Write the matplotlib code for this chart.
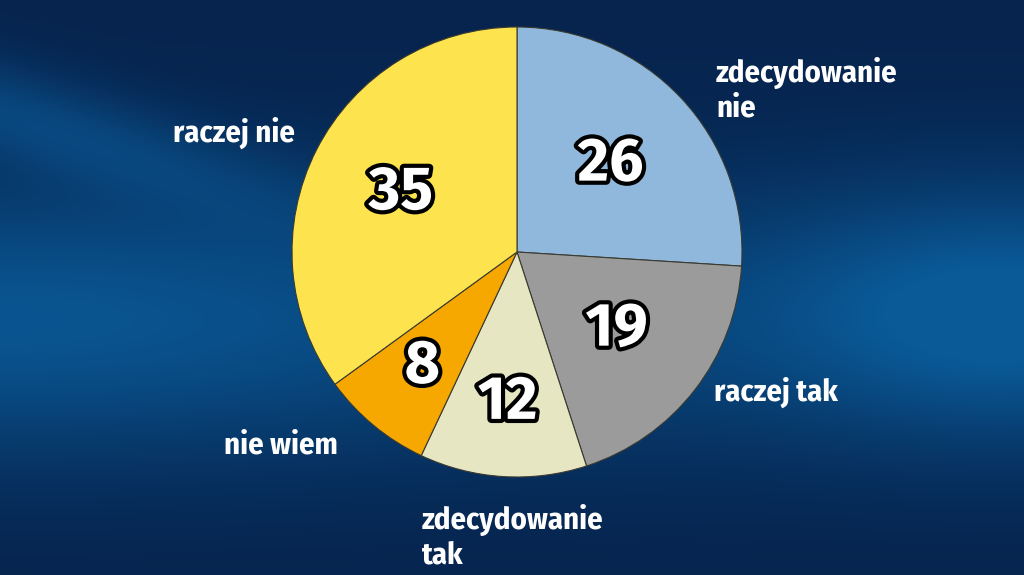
import matplotlib.pyplot as plt
import matplotlib.patheffects as pe
import numpy as np

# survey answers, clockwise from 12 o'clock
labels = ["zdecydowanie\nnie", "raczej tak", "zdecydowanie\ntak", "nie wiem", "raczej nie"]
values = [26, 19, 12, 8, 35]
colors = ["#8fb8dc", "#9b9b9b", "#e6e6c3", "#f7a800", "#fde44f"]

# where the numbers sit inside each wedge (fraction of radius)
num_dist = [0.57, 0.56, 0.67, 0.66, 0.58]
# label anchor points in pixel space (x, y from top) and alignment
label_pos = [(716, 90), (714, 392), (422, 537), (338, 445), (295, 133)]
label_ha = ["left", "left", "left", "right", "right"]

W, H = 1024, 575
cx, cy, R = 517, 252, 225

fig = plt.figure(figsize=(W / 100, H / 100), dpi=100)
ax = fig.add_axes([0, 0, 1, 1])

# blue studio-style background
yy, xx = np.mgrid[0:H, 0:W]
yt = yy  # row 0 is the top with origin="upper"
base = np.array([6, 36, 78]) / 255
light = np.array([10, 90, 152]) / 255
glow = 0.9 * np.exp(-((yt - 320) / 140) ** 2) * (0.6 + 0.4 * np.exp(-(xx / 450) ** 2))
glow += 0.6 * np.exp(-((yt - 310) / 120) ** 2) * np.exp(-((xx - 1000) / 220) ** 2)
streak = 0.55 * np.exp(-((yt - 110 - 0.3 * xx) / 50) ** 2) * np.exp(-(xx / 280) ** 2)
mix = np.clip(glow + streak, 0, 1)[..., None]
bg = base * (1 - mix) + light * mix
ax.imshow(bg, extent=(0, W, 0, H), origin="upper", aspect="auto", zorder=0)

wedges, _ = ax.pie(
    values,
    colors=colors,
    startangle=90,
    counterclock=False,
    center=(cx, H - cy),
    radius=R,
    frame=True,
    wedgeprops=dict(edgecolor="#3a3a30", linewidth=0.8),
)
ax.set_xlim(0, W)
ax.set_ylim(0, H)
ax.set_aspect("equal")
ax.set_axis_off()

outline = [pe.withStroke(linewidth=6, foreground="black")]
for w, v, d in zip(wedges, values, num_dist):
    ang = np.deg2rad((w.theta1 + w.theta2) / 2)
    ax.text(cx + d * R * np.cos(ang), H - cy + d * R * np.sin(ang), str(v),
            ha="center", va="center", fontsize=44, fontweight="bold",
            family=["Fira Sans", "DejaVu Sans"], color="white",
            path_effects=outline, zorder=5)

for lab, (lx, ly), ha in zip(labels, label_pos, label_ha):
    ax.text(lx, H - ly, lab, ha=ha, va="center", fontsize=22, fontweight="bold",
            family=["Fira Sans Condensed", "DejaVu Sans"], color="white",
            linespacing=1.2, zorder=5)

fig.savefig("out.png", dpi=100)
